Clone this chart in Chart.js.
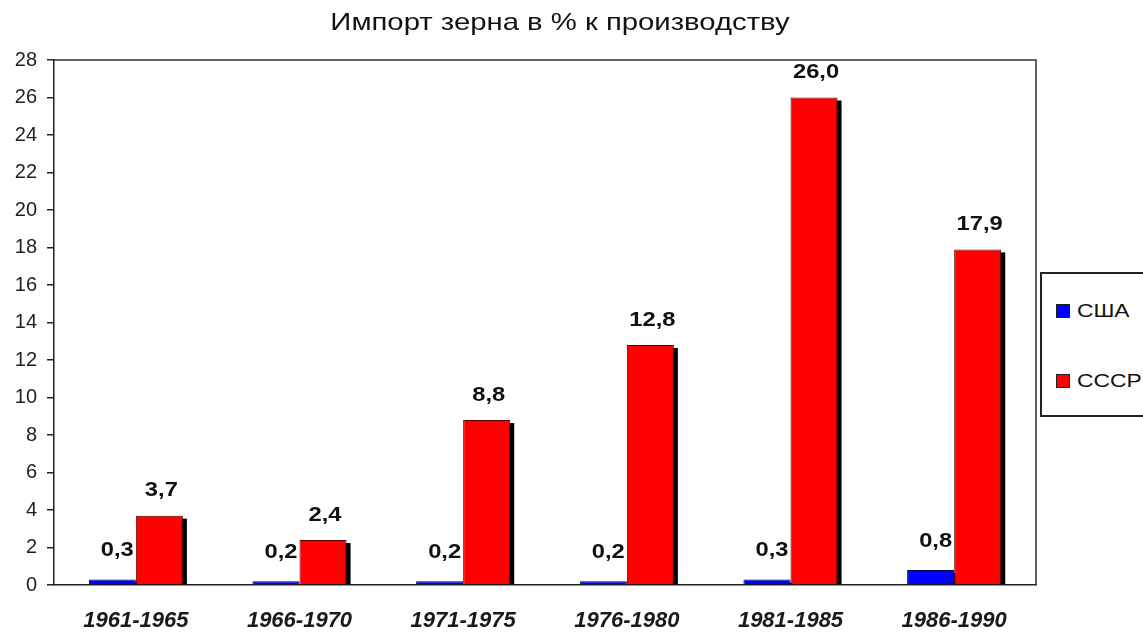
<!DOCTYPE html>
<html>
<head>
<meta charset="utf-8">
<script src="https://cdn.jsdelivr.net/npm/chart.js@4"></script>
<style>
    html, body { margin: 0; padding: 0; background: #fff; }
    #wrap { position: relative; width: 1143px; height: 633px; overflow: hidden; }
    #legend {
        position: absolute; left: 1040px; top: 272px; width: 130px; height: 141px;
        border: 2px solid #222; background: #fff;
        font-family: 'Liberation Sans', Arial, sans-serif; font-size: 19px; color: #111;
    }
    .lg-item { position: absolute; left: 14px; display: flex; align-items: center; }
    .lg-box { width: 12px; height: 12px; border: 1px solid #222; margin-right: 7px; }
    .lg-text { display: inline-block; transform: scaleX(1.2); transform-origin: left center; }
</style>
</head>
<body>
<div id="wrap">
    <canvas id="chart" width="1143" height="633"></canvas>
    <div id="legend">
        <div class="lg-item" style="top: 26px;"><span class="lg-box" style="background:#0000ff"></span><span class="lg-text">США</span></div>
        <div class="lg-item" style="top: 96px;"><span class="lg-box" style="background:#ff0000"></span><span class="lg-text">СССР</span></div>
    </div>
</div>
<script>
// data
const periods = ['1961-1965', '1966-1970', '1971-1975', '1976-1980', '1981-1985', '1986-1990'];
const usa = [0.3, 0.2, 0.2, 0.2, 0.3, 0.8];
const ussr = [3.7, 2.4, 8.8, 12.8, 26.0, 17.9];
const seriesNames = ['США', 'СССР'];
const chartTitle = 'Импорт зерна в % к производству';

const FONT = "'Liberation Sans', Arial, sans-serif";

// text drawn a bit wider, the reference looks horizontally stretched
function wideText(ctx, txt, x, y, sx) {
    ctx.save();
    ctx.translate(x, y);
    ctx.scale(sx, 1);
    ctx.fillText(txt, 0, 0);
    ctx.restore();
}

// black drop shadow behind each bar
const shadowPlugin = {
    id: 'barShadow',
    beforeDatasetsDraw(chart) {
        const ctx = chart.ctx;
        ctx.save();
        ctx.fillStyle = '#000';
        chart.data.datasets.forEach((ds, i) => {
            const meta = chart.getDatasetMeta(i);
            meta.data.forEach(bar => {
                const w = bar.width;
                const left = bar.x - w / 2;
                const h = bar.base - bar.y;
                ctx.fillRect(left + 4, bar.y + 3, w, h - 3);
            });
        });
        ctx.restore();
    }
};

// title, value labels over bars, frame around plot area
const labelPlugin = {
    id: 'valueLabels',
    afterDatasetsDraw(chart) {
        const ctx = chart.ctx;
        const area = chart.chartArea;
        ctx.save();
        ctx.strokeStyle = '#333';
        ctx.lineWidth = 1.5;
        ctx.beginPath();
        ctx.moveTo(area.left, area.top);
        ctx.lineTo(area.right, area.top);
        ctx.lineTo(area.right, area.bottom);
        ctx.stroke();

        ctx.fillStyle = '#111';
        ctx.textAlign = 'center';
        ctx.textBaseline = 'middle';

        ctx.font = '24px ' + FONT;
        wideText(ctx, chartTitle, 560, 23, 1.22);

        ctx.font = 'bold 21px ' + FONT;
        const dx = [5, 2];
        const dy = [29, 25];
        chart.data.datasets.forEach((ds, i) => {
            const meta = chart.getDatasetMeta(i);
            meta.data.forEach((bar, j) => {
                const txt = ds.data[j].toFixed(1).replace('.', ',');
                wideText(ctx, txt, bar.x + dx[i], bar.y - dy[i], 1.13);
            });
        });
        ctx.restore();
    }
};

new Chart(document.getElementById('chart'), {
    type: 'bar',
    data: {
        labels: periods,
        datasets: [
            { label: seriesNames[0], data: usa, backgroundColor: '#0000ff', borderColor: '#000044', borderWidth: 1 },
            { label: seriesNames[1], data: ussr, backgroundColor: '#ff0000', borderColor: '#550000', borderWidth: 1 }
        ]
    },
    options: {
        responsive: false,
        animation: false,
        layout: { padding: { left: 0, right: 107, top: 60, bottom: 0 } },
        datasets: { bar: { categoryPercentage: 0.575, barPercentage: 1 } },
        plugins: {
            legend: { display: false },
            tooltip: { enabled: false },
            title: { display: false }
        },
        scales: {
            x: {
                grid: { display: false },
                border: { display: true, color: '#222', width: 1.5 },
                ticks: {
                    color: '#1a1a1a',
                    padding: 15,
                    font: { family: FONT, size: 22, weight: 'bold', style: 'italic' }
                },
                afterFit(scale) { scale.height = 48; }
            },
            y: {
                min: 0,
                max: 28,
                grid: { drawOnChartArea: false, drawTicks: true, tickLength: 7, color: '#222', lineWidth: 1.5 },
                border: { display: true, color: '#222', width: 1.5 },
                ticks: {
                    stepSize: 2,
                    color: '#222',
                    padding: 10,
                    font: { family: FONT, size: 20 }
                },
                afterFit(scale) { scale.width = 54; }
            }
        }
    },
    plugins: [shadowPlugin, labelPlugin]
});
</script>
</body>
</html>
